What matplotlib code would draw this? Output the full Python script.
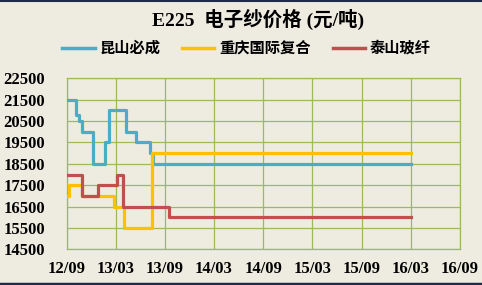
import matplotlib
matplotlib.use("Agg")
import matplotlib.pyplot as plt
from matplotlib.lines import Line2D

# months since 2012/09
kunshan_x = [0, 1.1, 1.5, 1.95, 3.2, 4.7, 5.2, 7.2, 8.5, 10.15, 10.55, 42]
kunshan_y = [21500, 20800, 20500, 20000, 18500, 19500, 21000, 20000, 19500, 19000, 18500, 18500]

chongqing_x = [0, 0.3, 1.95, 5.8, 7.0, 10.4, 42]
chongqing_y = [17000, 17500, 17000, 16500, 15500, 19000, 19000]

taishan_x = [0, 1.95, 3.9, 6.2, 6.95, 12.5, 42]
taishan_y = [18000, 17000, 17500, 18000, 16500, 16000, 16000]

series_names = ['昆山必成', '重庆国际复合', '泰山玻纤']
xtick_labels = ['12/09', '13/03', '13/09', '14/03', '14/09', '15/03', '15/09', '16/03', '16/09']
ytick_vals = [14500, 15500, 16500, 17500, 18500, 19500, 20500, 21500, 22500]

bg = '#EEECE1'
grid_c = '#9BBB59'
colors = ['#4BACC6', '#FFC000', '#C0504D']
serif_cjk = ['Liberation Serif', 'Noto Sans CJK SC']

fig = plt.figure(figsize=(4.82, 2.85), dpi=100, facecolor=bg)
ax = fig.add_axes([0.138, 0.125, 0.816, 0.600])
ax.set_facecolor(bg)

ax.plot(kunshan_x, kunshan_y, drawstyle='steps-post', color=colors[0], lw=2.3, zorder=3)
ax.plot(chongqing_x, chongqing_y, drawstyle='steps-post', color=colors[1], lw=2.3, zorder=3)
ax.plot(taishan_x, taishan_y, drawstyle='steps-post', color=colors[2], lw=2.3, zorder=3)

ax.set_xlim(0, 48)
ax.set_ylim(14500, 22500)
ax.set_xticks(range(0, 49, 6))
ax.set_xticklabels(xtick_labels)
ax.set_yticks(ytick_vals)
ax.grid(True, color=grid_c, lw=0.9)
for s in ax.spines.values():
    s.set_color(grid_c)
    s.set_linewidth(0.9)
ax.tick_params(axis='x', length=0, pad=8.5)
ax.tick_params(axis='y', length=0, pad=15.5)
for lab in ax.get_xticklabels() + ax.get_yticklabels():
    lab.set_family('Liberation Serif')
    lab.set_fontweight('bold')
    lab.set_fontsize(12)

fig.text(0.535, 0.93, 'E225  电子纱价格 (元/吨)', ha='center', va='center',
         family=serif_cjk, fontsize=14, fontweight='bold')

handles = [Line2D([], [], color=c, lw=2.5) for c in colors]
fig.legend(handles, series_names, loc='center', bbox_to_anchor=(0.512, 0.832), ncol=3,
           frameon=False, handlelength=2.1, handletextpad=0.35, columnspacing=1.4,
           prop={'family': 'Noto Sans CJK SC', 'weight': 'bold', 'size': 11})

# dark frame lines top and bottom
fig.add_artist(Line2D([0, 1], [0.998, 0.998], color='#1F2A4A', lw=1.5, transform=fig.transFigure))
fig.add_artist(Line2D([0, 1], [0.004, 0.004], color='#1F2A4A', lw=2.5, transform=fig.transFigure))

fig.savefig('out.png', dpi=100, facecolor=bg)
